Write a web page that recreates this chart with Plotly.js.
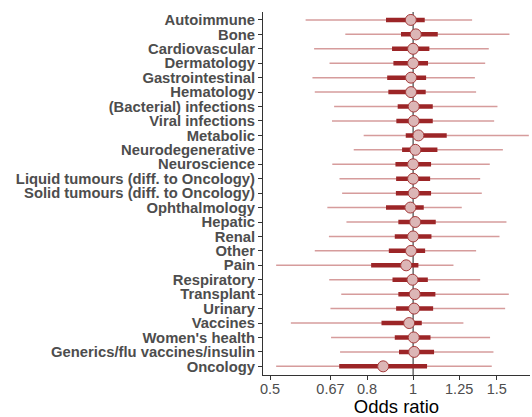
<!DOCTYPE html>
<html>
<head>
<meta charset="utf-8">
<script src="https://cdn.plot.ly/plotly-3.0.1.min.js"></script>
<style>html,body{margin:0;padding:0;background:#fff;}#chart{width:532px;height:417px;}</style>
</head>
<body>
<div id="chart"></div>
<script>
const labels = ["Autoimmune","Bone","Cardiovascular","Dermatology","Gastrointestinal","Hematology","(Bacterial) infections","Viral infections","Metabolic","Neurodegenerative","Neuroscience","Liquid tumours (diff. to Oncology)","Solid tumours (diff. to Oncology)","Ophthalmology","Hepatic","Renal","Other","Pain","Respiratory","Transplant","Urinary","Vaccines","Women's health","Generics/flu vaccines/insulin","Oncology"];
const oddsRatio = [0.989,1.013,1.000,1.000,0.990,0.990,1.003,1.003,1.026,1.011,1.000,1.000,1.003,0.987,1.010,1.000,0.990,0.967,0.997,1.008,1.005,0.981,1.003,1.005,0.865];
const innerLow  = [0.877,0.943,0.903,0.909,0.882,0.887,0.928,0.922,0.965,0.948,0.918,0.921,0.920,0.877,0.931,0.915,0.889,0.816,0.905,0.931,0.921,0.858,0.915,0.934,0.699];
const innerHigh = [1.058,1.127,1.082,1.075,1.065,1.063,1.100,1.100,1.177,1.125,1.091,1.086,1.091,1.053,1.116,1.093,1.060,1.026,1.074,1.114,1.102,1.043,1.088,1.107,1.070];
const outerLow  = [0.594,0.720,0.619,0.667,0.614,0.621,0.682,0.675,0.787,0.750,0.676,0.700,0.709,0.660,0.724,0.665,0.621,0.515,0.666,0.706,0.670,0.553,0.672,0.702,0.515];
const outerHigh = [1.331,1.595,1.443,1.418,1.349,1.357,1.505,1.481,1.752,1.545,1.450,1.384,1.395,1.266,1.572,1.520,1.357,1.216,1.384,1.590,1.562,1.276,1.452,1.476,1.464];
const tickVals = [0.5,0.67,0.8,1,1.25,1.5];
const tickText = ["0.5","0.67","0.8","1","1.25","1.5"];

function segs(lo, hi){
  const x=[], y=[];
  labels.forEach((c,i)=>{ x.push(lo[i],hi[i],null); y.push(c,c,null); });
  return {x,y};
}
const outer = segs(outerLow, outerHigh);
const inner = segs(innerLow, innerHigh);
const data = [
  {type:'scatter', mode:'lines', x:outer.x, y:outer.y, line:{color:'#d69c9c', width:1.5}, hoverinfo:'skip', showlegend:false},
  {type:'scatter', mode:'lines', x:inner.x, y:inner.y, line:{color:'#9c2527', width:4.5}, hoverinfo:'skip', showlegend:false},
  {type:'scatter', mode:'markers', x:oddsRatio, y:labels, marker:{size:11, color:'#dcb6b6', line:{color:'#a53a3a', width:1}}, showlegend:false}
];
const layout = {
  width:532, height:417,
  margin:{l:263, r:2, t:12, b:42},
  paper_bgcolor:'#fff', plot_bgcolor:'#fff',
  font:{family:'"Liberation Sans", Arial, sans-serif', color:'#4d4d4d'},
  xaxis:{type:'log', range:[Math.log10(0.4832), Math.log10(1.762)], tickmode:'array', tickvals:tickVals, ticktext:tickText,
    showgrid:false, zeroline:false, showline:true, linecolor:'#333', linewidth:1,
    ticks:'outside', ticklen:4, tickcolor:'#333', tickfont:{size:14.5, color:'#4d4d4d'}, ticklabelstandoff:-3,
    title:{text:'Odds ratio', font:{size:18.5, color:'#000'}, standoff:4}},
  yaxis:{type:'category', categoryorder:'array', categoryarray:labels, tickmode:'array', tickvals:labels, ticktext:labels,
    range:[labels.length-0.4, -0.55],
    showgrid:false, zeroline:false, showline:true, linecolor:'#333', linewidth:1,
    ticks:'outside', ticklen:4, tickcolor:'#333',
    tickfont:{size:14.8, color:'#4d4d4d', weight:'bold'}},
  shapes:[{type:'line', xref:'x', yref:'paper', x0:1, x1:1, y0:0, y1:1, line:{color:'#222', width:1}, layer:'below'}]
};
Plotly.newPlot('chart', data, layout, {staticPlot:true, displayModeBar:false});
</script>
</body>
</html>
